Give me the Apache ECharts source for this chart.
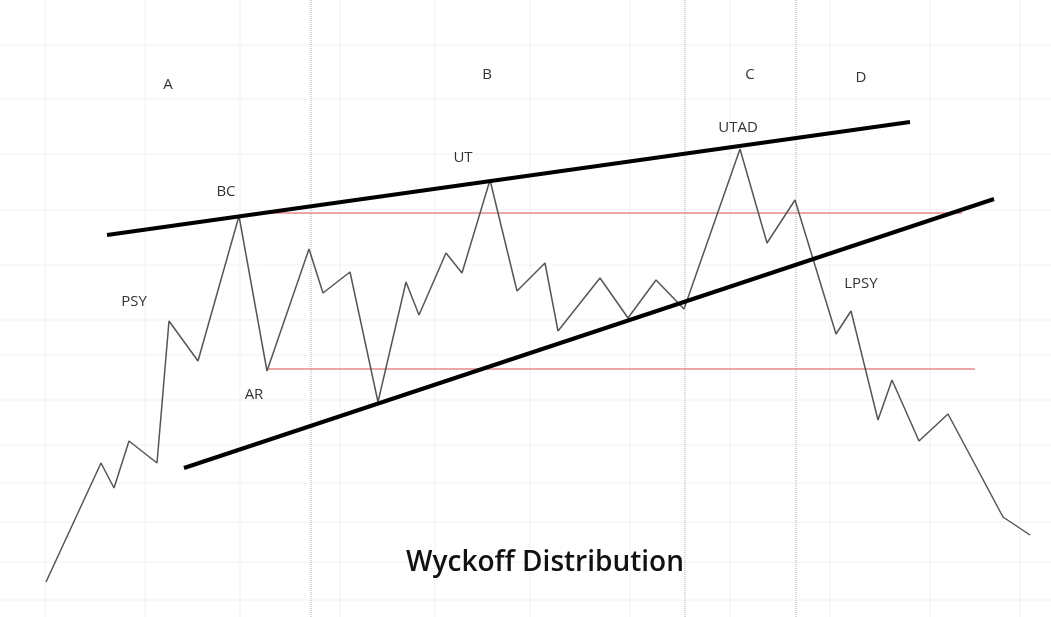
<!DOCTYPE html>
<html>
<head>
<meta charset="UTF-8">
<script src="https://cdn.jsdelivr.net/npm/echarts@6/dist/echarts.min.js"></script>
<style>html,body{margin:0;padding:0;background:#fff}</style>
</head>
<body>
<div id="main" style="width:1051px;height:617px;"></div>
<script>
// price path (x, y in picture units, y grows downward)
var priceX = [46,101,114,129,157,169,198,239,267,309,323,350,378,406,419,446,462,490,517,545,558,600,628,656,684,740,767,795,836,851,878,892,919,948,1003,1030];
var priceY = [582,463,488,441,463,321,361,216,371,249,293,272,402,282,315,253,273,180,291,263,331,278,318,280,309,149,243,200,334,311,420,380,441,414,517,535];
var upperLine = [[107,235],[910,122]];
var lowerLine = [[184,468],[994,199]];
var redLevels = [[267,962,213],[267,975,369]];
var gridXs = [45,145,240,340,435,530,630,730,830,930,1020];
var gridYs = [45,99,154,210,265,320,355,400,445,483,522,562,600];
var phaseXs = [311,685,796];
var labels = [
    ['A',168,85],['B',487,75],['C',750,75],['D',861,78],
    ['BC',226,192],['UT',463,158],['UTAD',738,128],['PSY',134,302],['AR',254,395],['LPSY',861,284]
];

var myChart = echarts.init(document.getElementById('main'));
var priceData = [];
for (var i = 0; i < priceX.length; i++) priceData.push([priceX[i], priceY[i]]);

function seg(data, color, width, type, z) {
    return {type: 'line', showSymbol: false, animation: false, silent: true, z: z,
        lineStyle: {color: color, width: width, type: type}, data: data};
}

var series = [];
// background grid
for (var i = 0; i < gridXs.length; i++) series.push(seg([[gridXs[i], 0], [gridXs[i], 617]], '#f1f1f1', 1, 'solid', 1));
for (var i = 0; i < gridYs.length; i++) series.push(seg([[0, gridYs[i]], [1051, gridYs[i]]], '#f1f1f1', 1, 'solid', 1));
// phase separators
for (var i = 0; i < phaseXs.length; i++) series.push(seg([[phaseXs[i], 0], [phaseXs[i], 617]], '#b0b0b0', 1, 'dotted', 2));
// support / resistance levels
for (var i = 0; i < redLevels.length; i++) {
    series.push(seg([[redLevels[i][0], redLevels[i][2]], [redLevels[i][1], redLevels[i][2]]], '#e58a8a', 1.5, 'solid', 3));
}
series.push(seg(priceData, '#555', 1.5, 'solid', 4));
series.push(seg(upperLine, '#000', 4, 'solid', 5));
series.push(seg(lowerLine, '#000', 4, 'solid', 5));

var labelData = [];
for (var i = 0; i < labels.length; i++) labelData.push({value: [labels[i][1], labels[i][2]], name: labels[i][0]});
series.push({type: 'scatter', symbolSize: 0, animation: false, z: 6, data: labelData,
    itemStyle: {opacity: 1},
    label: {show: true, position: 'inside', formatter: '{b}', color: '#333', textBorderWidth: 0,
        fontFamily: 'Open Sans', fontSize: 15}});
series.push({type: 'scatter', symbolSize: 0, animation: false, z: 6,
    itemStyle: {opacity: 1},
    data: [{value: [545, 563], name: 'Wyckoff Distribution'}],
    label: {show: true, position: 'inside', formatter: '{b}', color: '#111', textBorderWidth: 0,
        fontFamily: 'Open Sans', fontWeight: 600, fontSize: 28}});

var option = {
    backgroundColor: '#fff',
    grid: {left: 0, right: 0, top: 0, bottom: 0},
    xAxis: {type: 'value', min: 0, max: 1051, show: false},
    yAxis: {type: 'value', min: 0, max: 617, inverse: true, show: false},
    series: series
};
myChart.setOption(option);
</script>
</body>
</html>
